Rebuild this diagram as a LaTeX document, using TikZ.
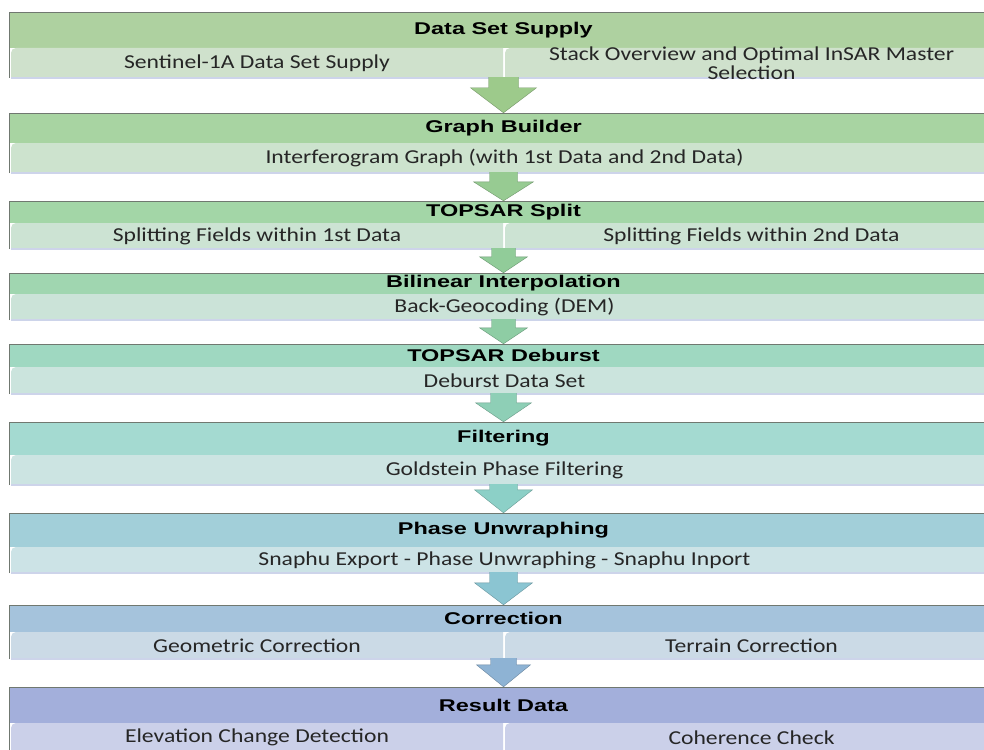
\documentclass[tikz,border=0pt]{standalone}
\usepackage{fontspec}
\usepackage{graphicx}
\setmainfont{Carlito}
\newfontfamily\hdfont{Liberation Sans}
\usetikzlibrary{calc}
\definecolor{hA}{HTML}{AED1A0}\definecolor{sA}{HTML}{CFE1CC}\definecolor{aA}{HTML}{9DCA8B}
\definecolor{hB}{HTML}{A8D4A2}\definecolor{sB}{HTML}{CDE3CE}\definecolor{aB}{HTML}{97CB92}
\definecolor{hC}{HTML}{A3D6A7}\definecolor{sC}{HTML}{CCE3D3}\definecolor{aC}{HTML}{91CC99}
\definecolor{hD}{HTML}{A0D6B0}\definecolor{sD}{HTML}{CBE3D8}\definecolor{aD}{HTML}{8ECDA4}
\definecolor{hE}{HTML}{9FD8C1}\definecolor{sE}{HTML}{CBE4DD}\definecolor{aE}{HTML}{8ECFB6}
\definecolor{hF}{HTML}{A4DAD1}\definecolor{sF}{HTML}{CCE4E2}\definecolor{aF}{HTML}{8CD0C7}
\definecolor{hG}{HTML}{A2CFD9}\definecolor{sG}{HTML}{CCE3E6}\definecolor{aG}{HTML}{8BC5D2}
\definecolor{hH}{HTML}{A5C3DC}\definecolor{sH}{HTML}{CBDAE6}\definecolor{aH}{HTML}{8EB3D4}
\definecolor{hI}{HTML}{A3AFDB}\definecolor{sI}{HTML}{CBD0E9}
\definecolor{shadowc}{HTML}{CDD4EA}
\definecolor{edgec}{HTML}{707870}
\definecolor{subtxt}{HTML}{262626}
\newcommand\hd[1]{\scalebox{1.38}[1]{\fontsize{17}{20}\hdfont\bfseries #1}}
\newcommand\st[1]{\scalebox{1.2}[1]{#1}}
\tikzset{
  edgeline/.style={draw=edgec, line width=0.8pt},
  shadowline/.style={draw=shadowc, line width=1.6pt},
  hdtext/.style={inner sep=0pt, text=black},
  subtext/.style={inner sep=0pt, text=subtxt, font=\fontsize{19.7}{19}\selectfont, align=center},
}
% one sub box
\newcommand\bandone[8]{%
  \fill[#5] (9,#2) rectangle (998,#3);
  \fill[#6] (11,#4) -- (11,{#3+5}) arc[start angle=180,end angle=90,radius=5pt] -- (998,#3) -- (998,#4) -- cycle;
  \draw[shadowline] (11,#4) -- (998,#4);
  \draw[edgeline] (9,#4) -- (9,#2) -- (998,#2);
  \node[hdtext, minimum width=989pt, minimum height={(#3-#2)*1pt}] (h#1) at (503.5,{(#2+#3)/2}) {\hd{#7}};
  \node[subtext, minimum width=987pt, minimum height={(#4-#3)*1pt}] (s#1) at (504.5,{(#3+#4)/2}) {\st{#8}};
}
% two sub boxes
\newcommand\bandtwo[9]{%
  \fill[#5] (9,#2) rectangle (998,#3);
  \fill[#6] (11,#4) -- (11,{#3+5}) arc[start angle=180,end angle=90,radius=5pt] -- (503,#3) -- (503,#4) -- cycle;
  \fill[#6] (505,#4) -- (505,{#3+5}) arc[start angle=180,end angle=90,radius=5pt] -- (998,#3) -- (998,#4) -- cycle;
  \draw[shadowline] (11,#4) -- (998,#4);
  \draw[edgeline] (9,#4) -- (9,#2) -- (998,#2);
  \node[hdtext, minimum width=989pt, minimum height={(#3-#2)*1pt}] (h#1) at (503.5,{(#2+#3)/2}) {\hd{#7}};
  \node[subtext, minimum width=492pt, minimum height={(#4-#3)*1pt}] (s#1l) at (257,{(#3+#4)/2}) {#8};
  \node[subtext, minimum width=493pt, minimum height={(#4-#3)*1pt}] (s#1r) at (751.5,{(#3+#4)/2}) {#9};
}
% block arrow: from, to, head half width, shaft half width, head length, colour
\newcommand\barrow[6]{%
  \path[fill=#6] let \p1=(#1.south), \p2=(#2.north) in
   ({\x2-#4pt},{\y1+1pt}) -- ({\x2-#4pt},{\y2+#5pt}) -- ({\x2-#3pt},{\y2+#5pt}) -- (\x2,\y2)
   -- ({\x2+#3pt},{\y2+#5pt}) -- ({\x2+#4pt},{\y2+#5pt}) -- ({\x2+#4pt},{\y1+1pt}) -- cycle;
  \path[draw=#6!75!black, line width=0.4pt, line join=miter] let \p1=(#1.south), \p2=(#2.north) in
   ({\x2-#4pt},{\y1+1pt}) -- ({\x2-#4pt},{\y2+#5pt}) -- ({\x2-#3pt},{\y2+#5pt}) -- (\x2,\y2)
   -- ({\x2+#3pt},{\y2+#5pt}) -- ({\x2+#4pt},{\y2+#5pt}) -- ({\x2+#4pt},{\y1+1pt});
}
\begin{document}
\begin{tikzpicture}[x=1pt,y=-1pt]
\useasboundingbox (0,0) rectangle (984,749);
\clip (0,0) rectangle (984,749);
\fill[white] (0,0) rectangle (984,749);
\bandtwo{1}{12}{48}{78}{hA}{sA}{Data Set Supply}{\st{Sentinel-1A Data Set Supply}}{\st{Stack Overview and Optimal InSAR Master}\\\st{Selection}}
\bandone{2}{113}{143}{173}{hB}{sB}{Graph Builder}{Interferogram Graph (with 1st Data and 2nd Data)}
\bandtwo{3}{201}{223}{249}{hC}{sC}{TOPSAR Split}{\st{Splitting Fields within 1st Data}}{\st{Splitting Fields within 2nd Data}}
\bandone{4}{273}{294}{320}{hD}{sD}{Bilinear Interpolation}{Back-Geocoding (DEM)}
\bandone{5}{344}{367}{394}{hE}{sE}{TOPSAR Deburst}{Deburst Data Set}
\bandone{6}{422}{455}{485}{hF}{sF}{Filtering}{Goldstein Phase Filtering}
\bandone{7}{513}{547}{573}{hG}{sG}{Phase Unwraphing}{Snaphu Export - Phase Unwraphing - Snaphu Inport}
\bandtwo{8}{605}{632}{659}{hH}{sH}{Correction}{\st{Geometric Correction}}{\st{Terrain Correction}}
\bandtwo{9}{687}{723}{752}{hI}{sI}{Result Data}{\st{Elevation Change Detection}}{\st{Coherence Check}}
\barrow{s1l}{h2}{33}{15}{25}{aA}
\barrow{s2}{h3}{30}{14}{19}{aB}
\barrow{s3l}{h4}{24}{12}{16}{aC}
\barrow{s4}{h5}{24}{12}{16}{aD}
\barrow{s5}{h6}{28}{13}{19}{aE}
\barrow{s6}{h7}{29}{14}{23}{aF}
\barrow{s7}{h8}{29}{14}{22}{aG}
\barrow{s8l}{h9}{27}{13}{22}{aH}
\end{tikzpicture}
\end{document}
